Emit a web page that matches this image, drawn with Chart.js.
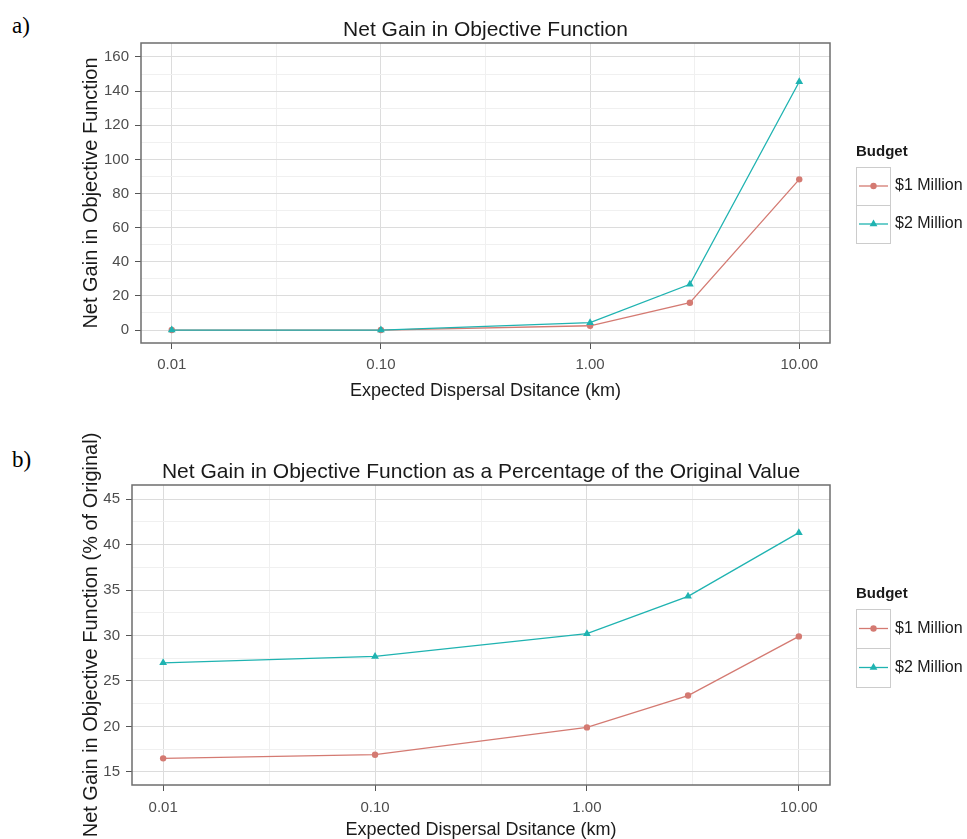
<!DOCTYPE html>
<html>
<head>
<meta charset="utf-8">
<script src="https://cdn.jsdelivr.net/npm/chart.js@4.4.1/dist/chart.umd.min.js"></script>
<style>
  html, body { margin: 0; padding: 0; background: #fff; width: 967px; height: 839px; overflow: hidden; }
  .panel { position: absolute; left: 0; }
  .tag { position: absolute; left: 12px; font-family: "Liberation Serif", "Times New Roman", serif; font-size: 23px; line-height: 23px; color: #000; }
</style>
</head>
<body>
<div class="tag" style="top:14px">a)</div>
<div class="tag" style="top:448px">b)</div>
<canvas id="gainChart" class="panel" style="top:0" width="967" height="420"></canvas>
<canvas id="pctChart" class="panel" style="top:420px" width="967" height="440"></canvas>
<script>
const distanceKm = [0.01, 0.1, 1, 3, 10];
const budgetLabels = ["$1 Million", "$2 Million"];
const gainOneMillion = [0, 0, 2.5, 16, 88.3];
const gainTwoMillion = [0, 0, 4.3, 26.8, 145.5];
const pctOneMillion = [16.5, 16.9, 19.9, 23.4, 29.9];
const pctTwoMillion = [27.0, 27.7, 30.2, 34.3, 41.3];
const xTickValues = [0.01, 0.1, 1, 10];
const yTicksGain = [0, 20, 40, 60, 80, 100, 120, 140, 160];
const yTicksPct = [15, 20, 25, 30, 35, 40, 45];

const FONT = '"Liberation Sans", Arial, Helvetica, sans-serif';
const RED = "#d47a72";
const TEAL = "#1fb3b1";
const GRID_MAJOR = "#dcdcdc";
const GRID_MINOR = "#f0f0f0";

Chart.defaults.font.family = FONT;

// minor grid lines sit half way between majors (log midpoints on x)
function withMinors(majors, isLog) {
  const ticks = majors.map(v => ({ value: v, minor: false }));
  for (let i = 0; i < majors.length - 1; i++) {
    const m = isLog ? Math.sqrt(majors[i] * majors[i + 1]) : (majors[i] + majors[i + 1]) / 2;
    ticks.push({ value: m, minor: true });
  }
  return ticks.sort((a, b) => a.value - b.value);
}

const panelBorder = {
  id: "panelBorder",
  afterDraw(chart) {
    const { ctx, chartArea: ca } = chart;
    ctx.save();
    ctx.strokeStyle = "#6e6e6e";
    ctx.lineWidth = 1.5;
    ctx.strokeRect(ca.left, ca.top, ca.right - ca.left, ca.bottom - ca.top);
    ctx.restore();
  }
};

const titleAndKey = {
  id: "titleAndKey",
  afterDraw(chart, args, opts) {
    const { ctx, chartArea: ca } = chart;
    ctx.save();
    ctx.fillStyle = "#1a1a1a";
    ctx.font = "21px " + FONT;
    ctx.textAlign = "center";
    ctx.textBaseline = "alphabetic";
    ctx.fillText(opts.title, (ca.left + ca.right) / 2, ca.top - 7);

    const x = ca.right + 26;
    const c = (ca.top + ca.bottom) / 2;
    ctx.textAlign = "left";
    ctx.textBaseline = "middle";
    ctx.font = "bold 15px " + FONT;
    ctx.fillText("Budget", x, c - 41);
    chart.data.datasets.forEach((ds, i) => {
      const top = c - 26 + i * opts.rowH;
      const cy = top + opts.rowH / 2;
      ctx.strokeStyle = "#cccccc";
      ctx.lineWidth = 1;
      ctx.strokeRect(x + 0.5, top + 0.5, 34, opts.rowH);
      ctx.strokeStyle = ds.borderColor;
      ctx.lineWidth = 1.3;
      ctx.beginPath();
      ctx.moveTo(x + 3, cy);
      ctx.lineTo(x + 32, cy);
      ctx.stroke();
      ctx.fillStyle = ds.borderColor;
      Chart.helpers.drawPoint(ctx, { pointStyle: ds.pointStyle, radius: ds.pointRadius, rotation: 0, borderWidth: 0 }, x + 17.5, cy);
      ctx.fillStyle = "#1a1a1a";
      ctx.font = "16px " + FONT;
      ctx.fillText(ds.label, x + 39, cy);
    });
    ctx.restore();
  }
};

function makeChart(id, cfg) {
  const xTicks = withMinors(xTickValues, true);
  const yTicks = withMinors(cfg.yTicks, false);
  const series = [cfg.one, cfg.two];
  return new Chart(document.getElementById(id), {
    type: "line",
    data: {
      datasets: series.map((vals, i) => ({
        label: budgetLabels[i],
        data: distanceKm.map((d, j) => ({ x: d, y: vals[j] })),
        borderColor: i === 0 ? RED : TEAL,
        backgroundColor: i === 0 ? RED : TEAL,
        borderWidth: 1.3,
        pointStyle: i === 0 ? "circle" : "triangle",
        pointRadius: i === 0 ? 3.2 : 4.5,
        pointBorderWidth: 0,
        tension: 0,
        order: i === 0 ? 1 : 0
      }))
    },
    options: {
      responsive: false,
      animation: false,
      layout: { padding: { left: 79.6, right: 137, top: cfg.top, bottom: cfg.bottom } },
      plugins: {
        legend: { display: false },
        tooltip: { enabled: false },
        titleAndKey: { title: cfg.title, rowH: cfg.rowH }
      },
      scales: {
        x: {
          type: "logarithmic",
          bounds: "data",
          min: Math.pow(10, -2.147),
          max: Math.pow(10, 1.147),
          afterBuildTicks: s => { s.ticks = xTicks.map(t => ({ ...t })); },
          afterFit: s => { s.height = cfg.xHeight; },
          border: { display: false },
          grid: {
            color: c => (c.tick && c.tick.minor ? GRID_MINOR : GRID_MAJOR),
            tickColor: c => (c.tick && c.tick.minor ? "rgba(0,0,0,0)" : "#555555"),
            tickLength: 6
          },
          ticks: {
            autoSkip: false,
            maxRotation: 0,
            padding: cfg.xPad,
            color: "#4d4d4d",
            font: { size: 15 },
            callback: function (v, i, ticks) { return ticks[i].minor ? "" : v.toFixed(2); }
          },
          title: {
            display: true,
            text: "Expected Dispersal Dsitance (km)",
            color: "#1a1a1a",
            font: { size: 18 },
            padding: { top: 0, bottom: 0 }
          }
        },
        y: {
          type: "linear",
          min: cfg.yMin,
          max: cfg.yMax,
          afterBuildTicks: s => { s.ticks = yTicks.map(t => ({ ...t })); },
          afterFit: s => { s.width = cfg.yWidth; },
          border: { display: false },
          grid: {
            color: c => (c.tick && c.tick.minor ? GRID_MINOR : GRID_MAJOR),
            tickColor: c => (c.tick && c.tick.minor ? "rgba(0,0,0,0)" : "#555555"),
            tickLength: 6
          },
          ticks: {
            autoSkip: false,
            padding: 6,
            color: "#4d4d4d",
            font: { size: 15 },
            callback: function (v, i, ticks) { return ticks[i].minor ? "" : String(v); }
          },
          title: {
            display: true,
            text: cfg.yTitle,
            color: "#1a1a1a",
            font: { size: 20 },
            padding: { top: 0, bottom: 0 }
          }
        }
      }
    },
    plugins: [panelBorder, titleAndKey]
  });
}

makeChart("gainChart", {
  title: "Net Gain in Objective Function",
  yTitle: "Net Gain in Objective Function",
  one: gainOneMillion,
  two: gainTwoMillion,
  yTicks: yTicksGain,
  yMin: -7.6,
  yMax: 168.2,
  top: 43,
  bottom: 17.7,
  xHeight: 59.3,
  xPad: 7,
  yWidth: 61.4,
  rowH: 38
});

makeChart("pctChart", {
  title: "Net Gain in Objective Function as a Percentage of the Original Value",
  yTitle: "Net Gain in Objective Function (% of Original)",
  one: pctOneMillion,
  two: pctTwoMillion,
  yTicks: yTicksPct,
  yMin: 13.57,
  yMax: 46.54,
  top: 65,
  bottom: 18.7,
  xHeight: 56.3,
  xPad: 8,
  yWidth: 52.4,
  rowH: 39
});
</script>
</body>
</html>
